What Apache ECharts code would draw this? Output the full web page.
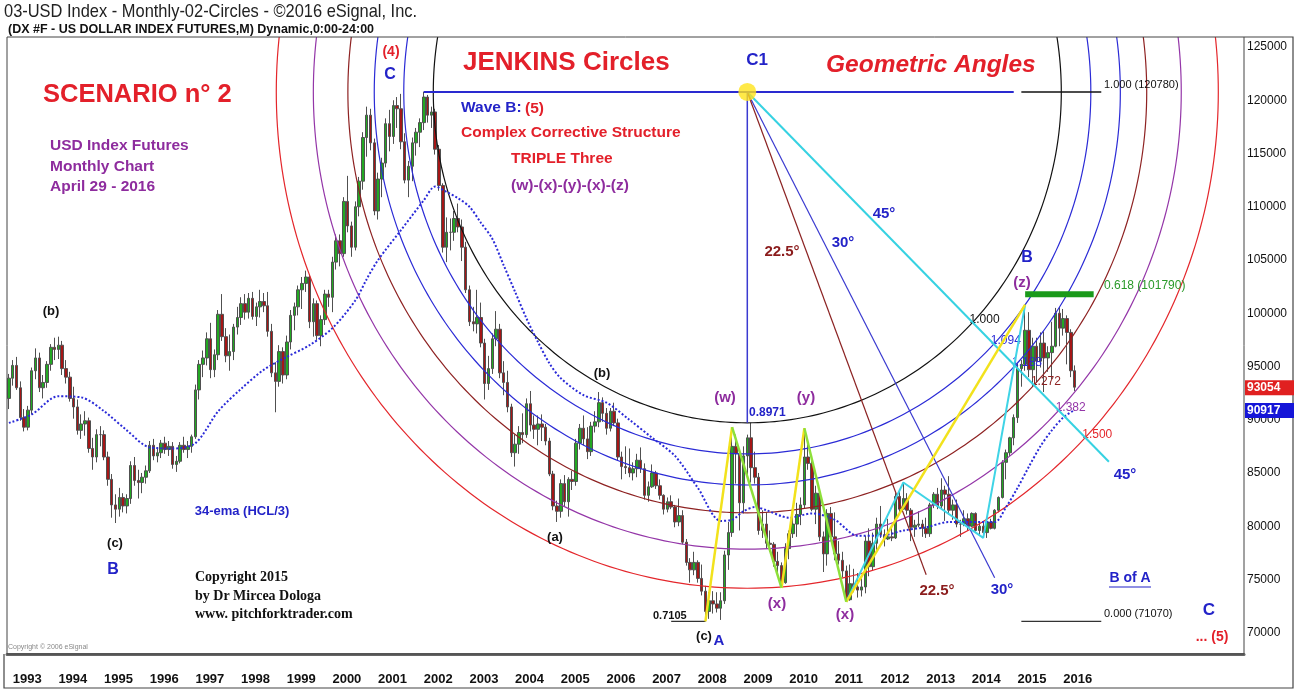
<!DOCTYPE html>
<html>
<head>
<meta charset="utf-8">
<title>USD Index - Monthly - Jenkins Circles</title>
<script src="https://cdn.jsdelivr.net/npm/echarts@6/dist/echarts.min.js"></script>
<style>
  html, body { margin: 0; padding: 0; background: #fff; }
  #chart { width: 1297px; height: 691px; }
</style>
</head>
<body>
<div id="chart"></div>
<script>
// ---------- data (index points, axis shows them x1000) ----------
// monthly bars Dec 1992 .. Apr 2016
const opens = [
  92.0,
  93.9, 95.1, 93.0, 90.2, 89.3, 90.9, 94.6, 95.8, 93.0, 93.5, 95.2, 96.8,
  96.6, 97.0, 94.8, 94.0, 92.0, 91.2, 89.0, 89.6, 89.9, 87.3, 86.5, 88.6,
  88.6, 86.5, 84.4, 82.0, 81.6, 82.7, 81.9, 82.6, 85.7, 84.3, 84.1, 84.6,
  85.2, 87.6, 86.6, 86.9, 87.8, 87.2, 87.5, 85.8, 86.1, 87.6, 87.2, 87.5,
  88.4, 92.8, 95.2, 95.8, 97.6, 94.7, 96.1, 99.9, 97.8, 96.0, 96.4, 98.7,
  99.6, 100.9, 100.1, 101.4, 99.7, 100.6, 101.1, 100.7, 98.3, 94.4, 93.6, 96.4,
  94.2, 97.3, 99.8, 100.6, 102.2, 102.8, 103.4, 99.2, 100.9, 97.9, 99.4, 101.8,
  101.5, 104.8, 106.8, 105.6, 110.5, 108.2, 106.2, 110.0, 112.4, 116.5, 118.6, 116.0,
  109.6, 112.6, 114.1, 117.8, 116.6, 119.5, 119.2, 116.1, 112.5, 113.8, 116.0, 117.0,
  117.9, 120.3, 118.6, 118.9, 115.4, 112.0, 106.2, 107.6, 107.6, 108.9, 108.1, 106.2,
  102.2, 99.2, 99.0, 99.6, 97.2, 93.4, 94.8, 97.6, 98.5, 94.4, 93.5, 91.2,
  86.9, 87.7, 88.8, 88.6, 91.5, 89.5, 89.1, 89.6, 89.3, 88.0, 84.9, 81.9,
  81.4, 84.0, 82.3, 84.4, 84.2, 87.8, 89.2, 88.2, 87.0, 89.4, 89.8, 91.6,
  90.6, 89.2, 90.8, 89.7, 86.5, 85.6, 85.5, 85.0, 85.4, 86.2, 85.4, 82.9,
  83.7, 85.0, 83.8, 82.9, 81.6, 82.3, 81.8, 80.4, 81.0, 78.5, 76.6, 75.9,
  76.6, 75.1, 73.9, 72.0, 73.0, 72.7, 72.3, 73.0, 77.3, 79.4, 87.5, 86.8,
  82.2, 86.6, 88.3, 85.5, 84.6, 79.6, 80.2, 78.4, 78.3, 76.7, 76.3, 74.7,
  77.9, 79.3, 80.2, 81.1, 82.0, 86.5, 85.9, 81.6, 83.1, 79.0, 77.4, 81.2,
  79.0, 77.4, 76.8, 75.8, 73.1, 74.6, 74.3, 74.0, 74.3, 78.6, 76.2, 78.4,
  80.2, 79.2, 78.8, 79.0, 78.9, 82.8, 81.6, 82.6, 81.5, 79.9, 80.1, 80.2,
  79.8, 79.3, 82.0, 83.0, 81.9, 83.4, 83.0, 81.5, 82.0, 80.2, 80.2, 80.7,
  80.0, 81.2, 79.6, 80.0, 79.4, 80.4, 79.8, 81.5, 82.7, 86.0, 86.9, 88.3,
  90.2, 94.8, 95.2, 98.4, 94.7, 96.9, 95.5, 97.2, 95.8, 96.3, 96.9, 100.0,
  98.6, 99.5, 98.2, 94.6
];
const highs = [
  94.3,
  95.6, 95.9, 93.6, 91.0, 91.3, 94.9, 96.7, 96.3, 94.2, 95.5, 97.1, 97.7,
  97.8, 97.4, 95.6, 94.5, 93.1, 91.9, 90.5, 90.8, 90.2, 88.3, 89.1, 89.4,
  89.0, 87.0, 84.9, 83.0, 83.6, 83.1, 83.0, 86.1, 86.5, 85.3, 85.0, 85.7,
  88.0, 88.2, 87.4, 88.1, 88.4, 88.0, 87.9, 86.6, 87.9, 88.4, 88.0, 88.6,
  93.3, 95.6, 96.5, 98.2, 99.1, 96.6, 100.3, 101.8, 98.6, 98.0, 99.0, 100.6,
  101.5, 101.8, 101.9, 102.0, 101.0, 102.2, 101.9, 102.0, 99.0, 95.4, 97.0, 96.8,
  97.9, 100.3, 101.0, 102.6, 103.4, 104.0, 103.6, 101.4, 101.2, 99.8, 102.2, 102.2,
  105.3, 107.4, 107.4, 110.9, 112.9, 108.6, 110.5, 112.8, 117.0, 119.4, 119.2, 116.4,
  113.2, 114.6, 118.3, 119.1, 120.0, 120.3, 120.6, 116.9, 114.3, 116.5, 117.4, 118.3,
  120.8, 120.5, 119.4, 119.2, 115.8, 112.2, 109.0, 108.9, 109.6, 110.3, 108.8, 106.7,
  102.6, 100.6, 102.2, 101.0, 97.6, 96.0, 98.1, 100.2, 99.0, 95.5, 94.6, 91.5,
  88.6, 89.4, 90.6, 92.0, 92.7, 90.4, 90.4, 90.5, 89.6, 88.3, 85.2, 82.4,
  84.4, 84.8, 84.6, 85.2, 88.2, 89.6, 90.4, 89.3, 89.8, 90.8, 92.6, 92.1,
  91.1, 91.1, 91.6, 90.1, 87.0, 87.5, 87.3, 86.0, 86.8, 87.4, 85.9, 84.2,
  85.8, 85.2, 84.4, 83.0, 82.7, 82.9, 82.0, 82.6, 81.5, 78.8, 77.0, 77.6,
  76.8, 76.4, 74.4, 73.8, 73.9, 73.8, 73.8, 77.7, 80.4, 89.3, 88.6, 87.0,
  87.5, 88.6, 89.71, 87.0, 85.0, 81.5, 81.3, 79.6, 78.5, 77.6, 76.6, 78.4,
  79.6, 81.0, 82.2, 82.7, 89.2, 88.0, 86.2, 83.8, 83.5, 79.5, 81.6, 81.8,
  81.3, 78.6, 77.6, 76.3, 76.4, 76.0, 75.6, 75.1, 79.1, 79.8, 79.4, 80.8,
  81.9, 79.7, 80.7, 80.1, 83.1, 83.4, 84.1, 83.1, 81.7, 80.6, 81.4, 80.6,
  80.8, 82.2, 83.2, 83.6, 84.5, 83.8, 84.7, 82.5, 82.5, 80.6, 81.5, 81.2,
  81.3, 81.3, 80.4, 80.4, 80.6, 80.7, 81.6, 82.8, 86.2, 87.2, 88.4, 90.5,
  95.3, 95.6, 100.8, 100.1, 97.7, 97.7, 98.2, 98.3, 96.9, 99.2, 100.5, 100.6,
  100.4, 99.8, 98.5, 95.1
];
const lows = [
  91.0,
  93.2, 92.8, 89.9, 88.9, 89.0, 90.5, 93.8, 92.6, 92.0, 93.0, 94.6, 95.6,
  95.7, 94.2, 93.4, 91.7, 90.1, 88.6, 88.2, 88.5, 86.9, 85.3, 86.0, 87.5,
  86.2, 83.8, 80.8, 80.3, 80.9, 81.3, 81.2, 82.1, 83.8, 82.6, 83.1, 84.0,
  85.0, 86.2, 86.0, 86.4, 86.8, 86.6, 85.4, 85.1, 85.9, 86.9, 86.4, 86.9,
  88.2, 91.9, 94.0, 95.1, 93.9, 94.0, 95.6, 97.4, 95.4, 94.6, 95.6, 98.0,
  98.9, 99.4, 99.5, 99.4, 98.8, 99.6, 100.1, 97.8, 94.0, 90.7, 93.1, 93.4,
  93.8, 96.6, 98.4, 99.8, 100.4, 102.0, 98.6, 97.8, 97.5, 96.9, 98.9, 100.6,
  100.1, 104.1, 104.4, 105.3, 107.6, 105.3, 105.9, 109.1, 111.6, 114.7, 115.3, 109.2,
  108.8, 110.9, 113.7, 115.2, 115.9, 117.4, 115.4, 112.2, 110.9, 112.4, 114.8, 115.6,
  117.2, 117.9, 117.4, 114.9, 111.5, 105.7, 104.8, 105.9, 106.8, 107.6, 104.9, 101.9,
  98.8, 98.3, 98.1, 96.8, 91.9, 92.8, 94.3, 96.9, 93.9, 92.3, 90.7, 86.5,
  85.6, 86.8, 87.8, 88.3, 88.9, 88.2, 87.6, 88.0, 87.6, 84.7, 81.5, 80.4,
  80.8, 81.9, 80.9, 83.4, 83.8, 87.2, 87.6, 86.3, 86.6, 88.8, 89.3, 89.8,
  88.6, 88.9, 89.4, 86.2, 84.4, 84.9, 84.6, 84.3, 84.6, 85.0, 82.5, 82.3,
  83.6, 83.5, 82.5, 81.1, 81.3, 81.6, 79.9, 80.0, 78.3, 76.3, 74.7, 75.4,
  74.7, 73.5, 71.07, 71.3, 71.8, 71.9, 71.2, 72.7, 75.9, 79.0, 84.0, 79.6,
  81.2, 84.5, 84.1, 84.0, 79.2, 78.9, 77.9, 77.6, 76.2, 75.4, 74.2, 74.6,
  76.9, 78.9, 79.0, 80.1, 81.7, 85.3, 81.4, 80.2, 78.6, 75.7, 76.3, 78.6,
  76.8, 76.4, 75.2, 72.9, 73.0, 73.8, 73.3, 73.4, 73.7, 75.3, 75.8, 77.6,
  78.9, 78.1, 78.7, 78.6, 78.8, 81.2, 81.6, 81.1, 78.6, 79.0, 79.9, 79.0,
  78.9, 79.0, 81.7, 81.6, 81.6, 80.5, 81.1, 80.6, 79.9, 79.0, 80.0, 79.6,
  79.9, 79.5, 79.2, 78.9, 78.9, 79.7, 79.7, 81.3, 82.6, 84.4, 86.6, 87.6,
  89.7, 93.1, 94.6, 94.0, 93.1, 93.5, 94.9, 92.6, 94.5, 93.8, 96.8, 96.9,
  97.9, 95.2, 94.0, 92.7
];
const closes = [
  93.9,
  95.1, 93.0, 90.2, 89.3, 90.9, 94.6, 95.8, 93.0, 93.5, 95.2, 96.8, 96.6,
  97.0, 94.8, 94.0, 92.0, 91.2, 89.0, 89.6, 89.9, 87.3, 86.5, 88.6, 88.6,
  86.5, 84.4, 82.0, 81.6, 82.7, 81.9, 82.6, 85.7, 84.3, 84.1, 84.6, 85.2,
  87.6, 86.6, 86.9, 87.8, 87.2, 87.5, 85.8, 86.1, 87.6, 87.2, 87.5, 88.4,
  92.8, 95.2, 95.8, 97.6, 94.7, 96.1, 99.9, 97.8, 96.0, 96.4, 98.7, 99.6,
  100.9, 100.1, 101.4, 99.7, 100.6, 101.1, 100.7, 98.3, 94.4, 93.6, 96.4, 94.2,
  97.3, 99.8, 100.6, 102.2, 102.8, 103.4, 99.2, 100.9, 97.9, 99.4, 101.8, 101.5,
  104.8, 106.8, 105.6, 110.5, 108.2, 106.2, 110.0, 112.4, 116.5, 118.6, 116.0, 109.6,
  112.6, 114.1, 117.8, 116.6, 119.5, 119.2, 116.1, 112.5, 113.8, 116.0, 117.0, 117.9,
  120.3, 118.6, 118.9, 115.4, 112.0, 106.2, 107.6, 107.6, 108.9, 108.1, 106.2, 102.2,
  99.2, 99.0, 99.6, 97.2, 93.4, 94.8, 97.6, 98.5, 94.4, 93.5, 91.2, 86.9,
  87.7, 88.8, 88.6, 91.5, 89.5, 89.1, 89.6, 89.3, 88.0, 84.9, 81.9, 81.4,
  84.0, 82.3, 84.4, 84.2, 87.8, 89.2, 88.2, 87.0, 89.4, 89.8, 91.6, 90.6,
  89.2, 90.8, 89.7, 86.5, 85.6, 85.5, 85.0, 85.4, 86.2, 85.4, 82.9, 83.7,
  85.0, 83.8, 82.9, 81.6, 82.3, 81.8, 80.4, 81.0, 78.5, 76.6, 75.9, 76.6,
  75.1, 73.9, 72.0, 73.0, 72.7, 72.3, 73.0, 77.3, 79.4, 87.5, 86.8, 82.2,
  86.6, 88.3, 85.5, 84.6, 79.6, 80.2, 78.4, 78.3, 76.7, 76.3, 74.7, 77.9,
  79.3, 80.2, 81.1, 82.0, 86.5, 85.9, 81.6, 83.1, 79.0, 77.4, 81.2, 79.0,
  77.4, 76.8, 75.8, 73.1, 74.6, 74.3, 74.0, 74.3, 78.6, 76.2, 78.4, 80.2,
  79.2, 78.8, 79.0, 78.9, 82.8, 81.6, 82.6, 81.5, 79.9, 80.1, 80.2, 79.8,
  79.3, 82.0, 83.0, 81.9, 83.4, 83.0, 81.5, 82.0, 80.2, 80.2, 80.7, 80.0,
  81.2, 79.6, 80.0, 79.4, 80.4, 79.8, 81.5, 82.7, 86.0, 86.9, 88.3, 90.2,
  94.8, 95.2, 98.4, 94.7, 96.9, 95.5, 97.2, 95.8, 96.3, 96.9, 100.0, 98.6,
  99.5, 98.2, 94.6, 93.054
];

// 34-ema (HCL/3)
const emaDates = [
  '1992-12', '1993-06', '1994-01', '1994-07', '1995-01', '1995-07', '1996-01', '1996-07',
  '1997-01', '1997-07', '1998-01', '1998-07', '1999-01', '1999-07', '2000-01', '2000-07',
  '2000-10', '2001-01', '2001-07', '2002-01', '2002-04', '2002-07', '2002-10', '2003-01',
  '2003-04', '2003-07', '2003-10', '2004-01', '2004-04', '2004-07', '2004-10', '2005-01',
  '2005-07', '2006-01', '2006-07', '2007-01', '2007-07', '2008-01', '2008-07', '2008-10',
  '2009-01', '2009-04', '2009-07', '2010-01', '2010-07', '2011-01', '2011-07', '2012-01',
  '2012-07', '2013-01', '2013-07', '2014-01', '2014-07', '2014-10', '2015-01', '2015-04',
  '2015-07', '2015-10', '2016-01', '2016-04'
];
const emaValues = [
  89.7, 90.5, 92.2, 92.1, 90.8, 89.0, 87.4, 87.3,
  87.8, 90.8, 92.9, 94.7, 95.9, 97.0, 98.6, 101.2,
  103.2, 105.0, 107.8, 110.6, 111.9, 111.4, 110.8, 110.0,
  108.5, 107.0, 104.5, 102.0, 99.5, 97.3, 95.3, 93.9,
  92.3, 91.6, 90.0, 88.3, 86.6, 83.6, 80.5, 80.6,
  81.4, 81.8, 81.5, 80.8, 81.2, 80.6, 79.1, 79.1,
  79.6, 79.9, 80.4, 80.4, 80.4, 81.8, 83.6, 85.6,
  87.5, 89.0, 90.2, 90.917
];

// Jenkins circles around C1
const c1 = ['2009-02', 120.78];
const circleLow = 89.71;            // 0.8971, bottom of the 1.000 circle
const circleRadiusMonths = 82.5;
const circleRatios = [1.000, 1.094, 1.188, 1.272, 1.382, 1.500];

// geometric angle rays from C1 (end points)
const ray45 = ['2017-01', 86.05];
const ray30 = ['2014-07', 75.16];
const ray225 = ['2013-01', 75.44];

// price levels
const levelTop = 120.78;
const levelBottom = 71.07;
const level618 = 101.79;
const lastEma = 90.917;
const lastClose = 93.054;
const waveBSpan = ['2002-01', '2014-12'];
const levelSpan = ['2015-02', '2016-11'];
const greenSpan = ['2015-03', '2016-09'];
const lowSpan = ['2007-06', '2008-03'];
const lastYearLabel = '2016';

// wave legs
const yellowLegs = [
  [['2008-03', 71.07], ['2008-10', 89.3]],
  [['2009-11', 74.2], ['2010-05', 89.2]],
  [['2011-04', 72.9], ['2015-03', 100.8]]
];
const greenLegs = [
  [['2008-10', 89.3], ['2009-11', 74.2]],
  [['2010-05', 89.2], ['2011-04', 72.9]]
];
const cyanLegs = [['2011-04', 72.9], ['2012-07', 84.1], ['2014-04', 78.9], ['2015-03', 100.8]];

// month categories, Dec 1992 .. Dec 2019
const months = [];
for (let i = 0; i < 325; i++) {
  const m = 11 + i;
  months.push((1992 + Math.floor(m / 12)) + '-' + String(m % 12 + 1).padStart(2, '0'));
}

// ---------- chart ----------
const SANS = "'Liberation Sans', Arial, sans-serif";
const SERIF = "'Liberation Serif', 'Times New Roman', serif";
const RED = '#e3202a', BLUE = '#2323c8', PURPLE = '#8e2c9e', BROWN = '#8b1c1c', GREEN = '#2a9a2a';
const circleColors = ['#111111', '#2b2bd6', '#2b2bd6', '#8e2222', '#9436a8', '#e4262b'];

const candles = opens.map((o, i) => [o, closes[i], lows[i], highs[i]]);

function seg(points, color, width, z) {
  return {
    type: 'line', data: points, symbol: 'none', silent: true,
    lineStyle: { color: color, width: width }, z: z || 5
  };
}

const chart = echarts.init(document.getElementById('chart'));

const series = [
  {
    type: 'candlestick',
    data: candles,
    barWidth: 3,
    itemStyle: {
      color: '#23a823', color0: '#a51616',
      borderColor: '#505050', borderColor0: '#505050', borderWidth: 1
    },
    z: 2
  },
  {
    type: 'custom',
    clip: true,
    silent: true,
    z: 3,
    data: circleRatios.map(() => c1),
    encode: { x: 0, y: 1 },
    renderItem: function (params, api) {
      const k = circleRatios[params.dataIndex];
      const c = api.coord(c1);
      const ci = months.indexOf(c1[0]);
      const step = (api.coord([ci + 60, c1[1]])[0] - c[0]) / 60;
      const rx = k * circleRadiusMonths * step;
      const ry = k * (api.coord([ci, circleLow])[1] - c[1]);
      const pts = [];
      for (let a = 0; a <= 360; a++) {
        const t = a * Math.PI / 180;
        pts.push([c[0] + rx * Math.cos(t), c[1] + ry * Math.sin(t)]);
      }
      const e = api.coord(ray45);
      const dx = e[0] - c[0], dy = e[1] - c[1];
      const s = 1 / Math.sqrt(Math.pow(dx / rx, 2) + Math.pow(dy / ry, 2));
      return {
        type: 'group',
        children: [
          { type: 'polyline', shape: { points: pts },
            style: { stroke: circleColors[params.dataIndex], fill: null, lineWidth: 1.2 } },
          { type: 'text', x: c[0] + dx * s - 3, y: c[1] + dy * s - 3, z2: 50,
            style: { text: k.toFixed(3), fill: circleColors[params.dataIndex],
                     font: '12px ' + SANS, textAlign: 'left', textVerticalAlign: 'middle' } }
        ]
      };
    }
  },
  {
    type: 'line',
    data: emaDates.map((d, i) => [d, emaValues[i]]),
    smooth: 0.3, symbol: 'none', silent: true,
    lineStyle: { color: '#2a2ad8', width: 2, type: 'dotted' },
    z: 4
  },
  seg([c1, ray45], '#36d2e2', 2),
  seg([c1, ray30], '#3a3ad0', 1.2),
  seg([c1, ray225], '#8b2222', 1.2),
  seg([c1, [c1[0], circleLow]], '#3a3ad0', 1.5),
  seg([[waveBSpan[0], levelTop], [waveBSpan[1], levelTop]], '#2a2ad0', 2),
  seg([[levelSpan[0], levelTop], [levelSpan[1], levelTop]], '#111', 1.5),
  seg([[levelSpan[0], levelBottom], [levelSpan[1], levelBottom]], '#333', 1.2),
  seg([[lowSpan[0], levelBottom], [lowSpan[1], levelBottom]], '#333', 1.2),
  seg([[greenSpan[0], level618], [greenSpan[1], level618]], '#1a9a1a', 6),
  seg(cyanLegs, '#3fd4e6', 2, 6)
].concat(
  yellowLegs.map(l => seg(l, '#f2e21c', 2.5, 6)),
  greenLegs.map(l => seg(l, '#8ee03a', 2.5, 6)),
  [{
    type: 'scatter', data: [c1], symbolSize: 18, silent: true,
    itemStyle: { color: '#ffe41a' }, z: 10
  }]
);

chart.setOption({
  animation: false,
  backgroundColor: '#fff',
  grid: { left: 7, right: 53, top: 37, bottom: 37 },
  xAxis: {
    type: 'category',
    data: months,
    boundaryGap: true,
    axisLine: { lineStyle: { color: '#666', width: 3 } },
    axisTick: { show: false },
    axisLabel: {
      interval: (i, v) => v.slice(5) === '01' && v.slice(0, 4) <= lastYearLabel,
      formatter: v => v.slice(0, 4),
      align: 'left', margin: 19,
      color: '#111', fontSize: 13, fontWeight: 'bold', fontFamily: SANS
    },
    splitLine: { show: false }
  },
  yAxis: {
    type: 'value',
    position: 'right',
    min: 68, max: 125.94, interval: 1,
    axisLine: { show: false },
    axisTick: { show: false },
    splitLine: { show: false },
    axisLabel: {
      margin: 3, color: '#111', fontSize: 12, fontFamily: SANS,
      formatter: v => (Math.abs(v % 5) < 1e-6 ? String(Math.round(v * 1000)) : '')
    }
  },
  series: series
});

// ---------- annotations ----------
function txt(text, x, y, color, font, align, sx) {
  return {
    type: 'text', x: x, y: y, z: 120, silent: true, scaleX: sx || 1,
    style: { text: text, fill: color, font: font, textAlign: align || 'center', textVerticalAlign: 'middle' }
  };
}

const notes = [
  txt('03-USD Index - Monthly-02-Circles - ©2016 eSignal, Inc.', 4, 12, '#222', '19px ' + SANS, 'left', 0.865),
  txt('(DX #F - US DOLLAR INDEX FUTURES,M) Dynamic,0:00-24:00', 8, 30, '#111', 'bold 12.5px ' + SANS, 'left'),
  txt('SCENARIO n° 2', 43, 95, RED, 'bold 25.5px ' + SANS, 'left'),
  txt('USD Index Futures', 50, 146, PURPLE, 'bold 15.5px ' + SANS, 'left'),
  txt('Monthly Chart', 50, 167, PURPLE, 'bold 15.5px ' + SANS, 'left'),
  txt('April 29 - 2016', 50, 187, PURPLE, 'bold 15.5px ' + SANS, 'left'),
  txt('JENKINS Circles', 463, 63, RED, 'bold 26px ' + SANS, 'left'),
  txt('C1', 757, 60, BLUE, 'bold 17px ' + SANS),
  txt('Geometric Angles', 826, 65, RED, 'italic bold 24.5px ' + SANS, 'left'),
  txt('(4)', 391, 52, RED, 'bold 14px ' + SANS),
  txt('C', 390, 75, BLUE, 'bold 16px ' + SANS),
  txt('Wave B:', 461, 108, BLUE, 'bold 15.5px ' + SANS, 'left'),
  txt('(5)', 525, 109, RED, 'bold 15.5px ' + SANS, 'left'),
  txt('Complex Corrective Structure', 461, 133, RED, 'bold 15.5px ' + SANS, 'left'),
  txt('TRIPLE Three', 511, 159, RED, 'bold 15.5px ' + SANS, 'left'),
  txt('(w)-(x)-(y)-(x)-(z)', 511, 186, PURPLE, 'bold 15.5px ' + SANS, 'left'),
  txt('1.000 (120780)', 1104, 85, '#111', '11px ' + SANS, 'left'),
  txt('45°', 884, 214, BLUE, 'bold 15px ' + SANS),
  txt('30°', 843, 243, BLUE, 'bold 15px ' + SANS),
  txt('22.5°', 782, 252, BROWN, 'bold 15px ' + SANS),
  txt('B', 1027, 258, BLUE, 'bold 16px ' + SANS),
  txt('(z)', 1022, 283, PURPLE, 'bold 15px ' + SANS),
  txt('0.618 (101790)', 1104, 286, GREEN, '12px ' + SANS, 'left'),
  txt('(b)', 51, 311, '#111', 'bold 13px ' + SANS),
  txt('(b)', 602, 373, '#111', 'bold 13px ' + SANS),
  txt('(w)', 725, 398, PURPLE, 'bold 15px ' + SANS),
  txt('(y)', 806, 398, PURPLE, 'bold 15px ' + SANS),
  txt('0.8971', 749, 413, BLUE, 'bold 12px ' + SANS, 'left'),
  txt('34-ema (HCL/3)', 242, 511, BLUE, 'bold 13px ' + SANS),
  txt('(c)', 115, 543, '#111', 'bold 13px ' + SANS),
  txt('B', 113, 570, BLUE, 'bold 16px ' + SANS),
  txt('(a)', 555, 537, '#111', 'bold 13px ' + SANS),
  txt('Copyright 2015', 195, 577, '#111', 'bold 14px ' + SERIF, 'left'),
  txt('by Dr Mircea Dologa', 195, 596, '#111', 'bold 14px ' + SERIF, 'left'),
  txt('www. pitchforktrader.com', 195, 614, '#111', 'bold 14px ' + SERIF, 'left'),
  txt('0.7105', 653, 616, '#111', 'bold 11px ' + SANS, 'left'),
  txt('(c)', 704, 636, '#111', 'bold 13px ' + SANS),
  txt('A', 719, 641, BLUE, 'bold 15px ' + SANS),
  txt('(x)', 777, 604, PURPLE, 'bold 15px ' + SANS),
  txt('(x)', 845, 615, PURPLE, 'bold 15px ' + SANS),
  txt('22.5°', 937, 591, BROWN, 'bold 15px ' + SANS),
  txt('30°', 1002, 590, BLUE, 'bold 15px ' + SANS),
  txt('45°', 1125, 475, BLUE, 'bold 15px ' + SANS),
  txt('B of A', 1130, 578, BLUE, 'bold 14px ' + SANS),
  { type: 'line', z: 120, silent: true, shape: { x1: 1109, y1: 587, x2: 1151, y2: 587 },
    style: { stroke: BLUE, lineWidth: 1.2 } },
  txt('0.000 (71070)', 1104, 614, '#111', '11px ' + SANS, 'left'),
  txt('C', 1209, 610, BLUE, 'bold 17px ' + SANS),
  txt('... (5)', 1212, 637, RED, 'bold 14px ' + SANS),
  txt('Copyright © 2006 eSignal', 8, 647, '#888', '7px ' + SANS, 'left'),
  // frames
  { type: 'rect', z: 90, silent: true, shape: { x: 7, y: 37, width: 1237, height: 617 },
    style: { fill: null, stroke: '#444', lineWidth: 1 } },
  { type: 'polyline', z: 90, silent: true,
    shape: { points: [[1244, 37], [1293, 37], [1293, 688], [4, 688], [4, 654]] },
    style: { fill: null, stroke: '#444', lineWidth: 1.2 } }
];

// last price / ema tags on the price scale
[[lastClose, '#e02020'], [lastEma, '#1515d8']].forEach(function (t) {
  const y = chart.convertToPixel({ yAxisIndex: 0 }, t[0]);
  notes.push({ type: 'rect', z: 110, silent: true, shape: { x: 1245, y: y - 7, width: 49, height: 15 },
               style: { fill: t[1] } });
  notes.push(txt(String(Math.round(t[0] * 1000)), 1247, y + 0.5, '#fff', 'bold 12px ' + SANS, 'left'));
});

chart.setOption({ graphic: { elements: notes } });
</script>
</body>
</html>
